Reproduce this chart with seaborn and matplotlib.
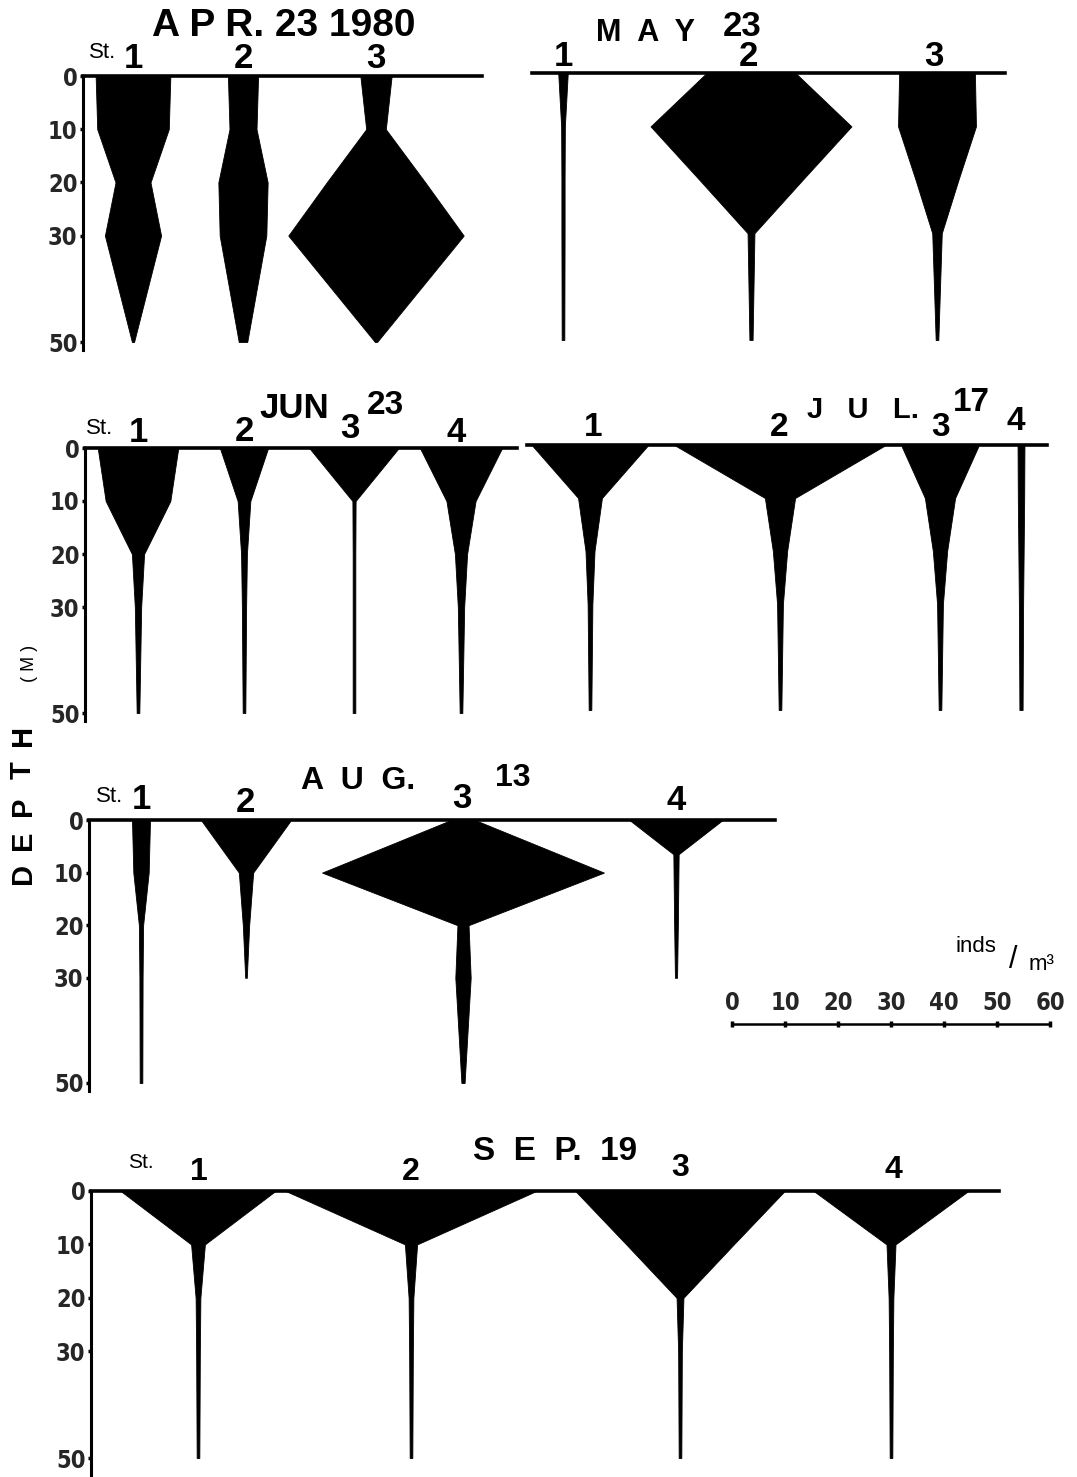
import numpy as np
import matplotlib
matplotlib.use("Agg")
import matplotlib.pyplot as plt
import seaborn as sns
from matplotlib import font_manager

# depths sampled (m)
DEPTH = [0, 10, 20, 30, 50]
DEPTH_TO_30 = [0, 10, 20, 30]
DEPTH_AUG4 = [0, 6.5, 20, 30]
DEPTH_TICKS = [0, 10, 20, 30, 50]

# abundance (inds/m3), full kite width
apr_st1 = [14.1, 13.5, 6.6, 10.6, 0.4]
apr_st2 = [5.7, 5.1, 9.3, 8.8, 1.6]
apr_st3 = [5.9, 3.7, 18.6, 33.1, 0.4]

may_st1 = [1.8, 0.7, 0.6, 0.6, 0.5]
may_st2 = [16.8, 37.9, 19.5, 1.3, 0.6]
may_st3 = [14.3, 14.7, 8.1, 1.8, 0.5]

jun_st1 = [15.2, 12.2, 2.3, 1.2, 0.5]
jun_st2 = [9.1, 2.4, 1.1, 0.8, 0.5]
jun_st3 = [16.9, 0.6, 0.5, 0.5, 0.5]
jun_st4 = [15.5, 5.5, 2.3, 1.2, 0.5]

jul_st1 = [22.0, 4.5, 1.7, 0.9, 0.5]
jul_st2 = [39.9, 5.7, 2.7, 1.1, 0.5]
jul_st3 = [14.7, 5.7, 2.7, 1.1, 0.5]
jul_st4 = [1.3, 1.2, 1.0, 0.8, 0.6]

aug_st1 = [3.4, 2.9, 0.8, 0.6, 0.5]
aug_st2 = [17.0, 2.7, 1.2, 0.3]
aug_st3 = [4.5, 53.2, 2.1, 2.9, 0.6]
aug_st4 = [17.6, 1.0, 0.7, 0.4]

sep_st1 = [29.2, 2.6, 0.9, 0.7, 0.5]
sep_st2 = [47.3, 2.3, 0.9, 0.7, 0.5]
sep_st3 = [39.5, 20.3, 1.3, 0.7, 0.5]
sep_st4 = [29.2, 1.7, 0.9, 0.7, 0.5]

SCALE_TICKS = [0, 10, 20, 30, 40, 50, 60]

sns.set_style("white")
plt.rcParams["font.family"] = ["Liberation Sans", "DejaVu Sans"]

# a condensed face for the numbers if one is installed
installed = {f.name for f in font_manager.fontManager.ttflist}
num_font = dict(fontfamily="Liberation Sans", fontweight="bold")
if "Liberation Sans Narrow" in installed:
    num_font = dict(fontfamily="Liberation Sans Narrow", fontweight="bold")
else:
    cond = font_manager.FontProperties(family="DejaVu Sans", stretch="condensed", weight="bold")
    if "Condensed" in font_manager.findfont(cond, fallback_to_default=True):
        num_font = dict(fontfamily="DejaVu Sans", fontstretch="condensed", fontweight="bold")

W, H = 1077, 1477
PX = 60 / 318  # inds/m3 per pixel of the scale bar

fig = plt.figure(figsize=(W / 100, H / 100), dpi=100)
fig.patch.set_facecolor("white")


def panel(x0, x1, y0, y50, depth_max, show_axis):
    bottom = y0 + (y50 - y0) * depth_max / 50
    ax = fig.add_axes([x0 / W, 1 - bottom / H, (x1 - x0) / W, (bottom - y0) / H])
    ax.set_xlim(0, (x1 - x0) * PX)
    ax.set_ylim(depth_max, 0)
    sns.despine(ax=ax, top=False, right=True, bottom=True, left=not show_axis)
    ax.spines["top"].set_linewidth(2.6)
    ax.spines["left"].set_linewidth(2.2)
    ax.spines["top"].set_color("black")
    ax.spines["left"].set_color("black")
    ax.set_xticks([])
    if show_axis:
        ax.set_yticks(DEPTH_TICKS)
        ax.set_yticklabels([str(t) for t in DEPTH_TICKS], fontsize=17, **num_font)
        ax.tick_params(axis="y", left=True, length=2.5, width=2.5, pad=1.5, color="black")
    else:
        ax.set_yticks([])
    ax.patch.set_alpha(0)
    return ax, x0


def kite(panel_info, centre_px, depths, values):
    ax, x0 = panel_info
    c = (centre_px - x0) * PX
    half = np.asarray(values) / 2
    ax.fill_betweenx(depths, c - half, c + half, color="black", lw=0.6, clip_on=False)


def text(x, y, s, size, weight="bold", **kw):
    fig.text(x / W, 1 - y / H, s, ha="center", va="center", fontsize=size,
             fontweight=weight, color="black", **kw)


# APR
apr = panel(83, 482, 76, 342, 51.5, True)
kite(apr, 133, DEPTH, apr_st1)
kite(apr, 243, DEPTH, apr_st2)
kite(apr, 376, DEPTH, apr_st3)
text(284, 26, "A P R. 23 1980", 28)
text(103, 52, "St.", 16, "normal")
for x, s in [(133, "1"), (243, "2"), (376, "3")]:
    text(x, 59, s, 25)

# MAY
may = panel(532, 1005, 73, 340, 50.5, False)
kite(may, 563, DEPTH, may_st1)
kite(may, 751, DEPTH, may_st2)
kite(may, 937, DEPTH, may_st3)
text(646, 33, "M  A  Y", 22)
text(742, 27, "23", 25)
for x, s in [(563, "1"), (748, "2"), (934, "3")]:
    text(x, 57, s, 25)

# JUN
jun = panel(85, 517, 448, 713, 51.5, True)
kite(jun, 138, DEPTH, jun_st1)
kite(jun, 244, DEPTH, jun_st2)
kite(jun, 354, DEPTH, jun_st3)
kite(jun, 461, DEPTH, jun_st4)
text(294, 408, "JUN", 25)
text(386, 405, "23", 24)
text(100, 429, "St.", 16, "normal")
for x, y, s in [(138, 433, "1"), (244, 431, "2"), (350, 429, "3"), (456, 432, "4")]:
    text(x, y, s, 25)

# JUL
jul = panel(527, 1047, 445, 710, 50.5, False)
kite(jul, 590, DEPTH, jul_st1)
kite(jul, 780, DEPTH, jul_st2)
kite(jul, 940, DEPTH, jul_st3)
kite(jul, 1021, DEPTH, jul_st4)
text(863, 410, "J   U   L.", 21)
text(971, 402, "17", 24)
for x, y, s in [(593, 428, "1"), (779, 427, "2"), (941, 427, "3"), (1016, 422, "4")]:
    text(x, y, s, 24)

# AUG
aug = panel(89, 775, 820, 1083, 51.5, True)
kite(aug, 141, DEPTH, aug_st1)
kite(aug, 246, DEPTH_TO_30, aug_st2)
kite(aug, 463, DEPTH, aug_st3)
kite(aug, 676, DEPTH_AUG4, aug_st4)
text(358, 781, "A  U  G.", 23)
text(513, 778, "13", 23)
text(110, 797, "St.", 16, "normal")
for x, y, s in [(141, 799, "1"), (245, 802, "2"), (462, 798, "3"), (676, 800, "4")]:
    text(x, y, s, 25)

# SEP
sep = panel(91, 999, 1191, 1458, 53.2, True)
kite(sep, 198, DEPTH, sep_st1)
kite(sep, 411, DEPTH, sep_st2)
kite(sep, 680, DEPTH, sep_st3)
kite(sep, 891, DEPTH, sep_st4)
text(555, 1152, "S  E  P.  19", 24)
text(141, 1163, "St.", 15, "normal")
for x, y, s in [(199, 1172, "1"), (411, 1172, "2"), (680, 1168, "3"), (893, 1170, "4")]:
    text(x, y, s, 23)

# depth label
for y, s in [(873, "D"), (840, "E"), (806, "P"), (770, "T"), (735, "H")]:
    text(23, y, s, 21, rotation=90)
text(30, 663, "( M )", 13, "normal", rotation=90)

# scale bar
sc = fig.add_axes([732 / W, 1 - 1024 / H, 318 / W, 2 / H])
sc.set_xlim(0, 60)
sc.set_ylim(0, 1)
sns.despine(ax=sc, left=True, top=True, right=True, bottom=False)
sc.spines["bottom"].set_linewidth(1.8)
sc.spines["bottom"].set_color("black")
sc.set_yticks([])
sc.set_xticks(SCALE_TICKS)
sc.set_xticklabels([str(t) for t in SCALE_TICKS], fontsize=17, **num_font)
sc.tick_params(axis="x", bottom=True, top=False, labelbottom=False, labeltop=True,
               direction="inout", length=4, width=2.5, pad=3, color="black")
sc.patch.set_alpha(0)
text(976, 946, "inds", 16, "normal")
text(1013, 960, "/", 22, "normal")
text(1041, 965, "m³", 16, "normal")

fig.savefig("out.png", dpi=100, facecolor="white")
